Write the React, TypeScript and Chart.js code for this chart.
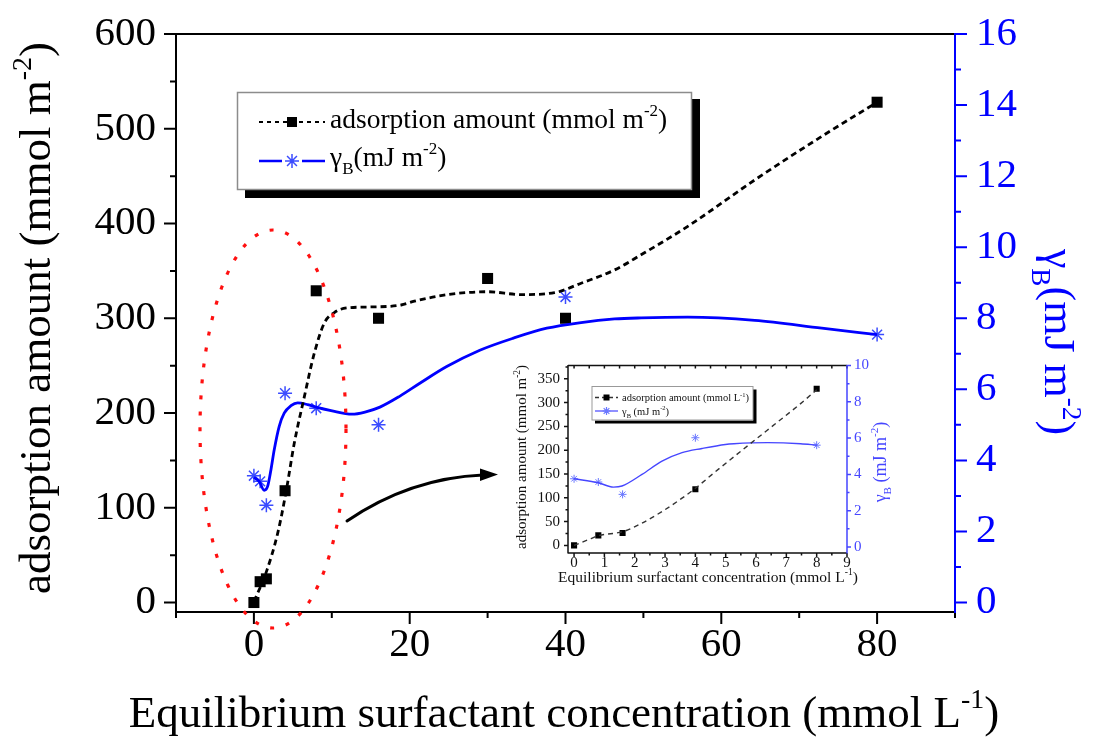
import React, { useEffect, useRef } from 'react';
import { Chart, registerables } from 'chart.js';

Chart.register(...registerables);

const FONT = '"Liberation Serif", "Times New Roman", Times, serif';
const BLUE = '#0000ff';
const STAR_BLUE = '#3b4cff';

// ---------------- main chart data ----------------
const concentration = [0, 0.8, 1.6, 4, 8, 16, 30, 40, 80];
const adsorptionAmount = [0, 22, 25, 118, 329, 300, 342, 300, 528];
const gammaConcentration = [0, 0.8, 1.6, 4, 8, 16, 40, 80];
const gammaB = [3.57, 3.41, 2.74, 5.89, 5.47, 5.0, 8.6, 7.54];

// smoothed curves
const adsorptionCurveX = [0, 1.54, 3.05, 4.11, 5.18, 6.47, 7.75, 9.04, 10.32, 12.04, 15.46, 18.9, 20.6, 24.9, 30.0, 34.3, 38.6, 42.0, 46.3, 49.7, 55.7, 64.3, 72.9, 80];
const adsorptionCurveY = [1, 31, 73, 116, 168, 217, 263, 295, 306, 311, 312, 314, 318, 325, 328, 325, 327, 337, 351, 367, 397, 446, 492, 528];
const gammaCurveX = [0, 0.68, 1.32, 1.76, 2.19, 2.61, 3.25, 3.89, 4.76, 5.62, 6.9, 8.1, 9.9, 12.6, 14.26, 16.18, 18.75, 21.3, 24.75, 29.0, 33.3, 37.6, 42.0, 46.3, 49.7, 55.7, 64.3, 72.9, 80];
const gammaCurveY = [3.52, 3.41, 3.16, 3.27, 3.74, 4.3, 4.96, 5.33, 5.54, 5.62, 5.57, 5.49, 5.4, 5.3, 5.36, 5.5, 5.81, 6.17, 6.64, 7.1, 7.44, 7.72, 7.88, 7.98, 8.01, 8.03, 7.94, 7.72, 7.54];

const xMajorTicks = [0, 20, 40, 60, 80];
const xMinorTicks = [-10, 10, 30, 50, 70, 90];
const yMajorTicks = [0, 100, 200, 300, 400, 500, 600];
const yMinorTicks = [50, 150, 250, 350, 450, 550];
const y2MajorTicks = [0, 2, 4, 6, 8, 10, 12, 14, 16];
const y2MinorTicks = [1, 3, 5, 7, 9, 11, 13, 15];

// ---------------- inset chart data ----------------
const insetConcentration = [0, 0.8, 1.6, 4, 8];
const insetAdsorption = [0, 21, 26, 118, 329];
const insetGamma = [3.76, 3.58, 2.9, 6.02, 5.61];
const insetAdsCurveX = [0, 0.47, 0.8, 1.63, 2.24, 2.9, 3.56, 4.0, 4.66, 5.27, 6.37, 7.47, 8];
const insetAdsCurveY = [0, 11.9, 20.3, 29.3, 46.9, 71.1, 99.2, 120, 154.8, 186.2, 242, 297.9, 327];
const insetGammaCurveX = [0, 0.8, 1.3, 1.58, 2.24, 2.9, 3.56, 4.22, 4.99, 5.27, 6.37, 7.47, 8];
const insetGammaCurveY = [3.76, 3.54, 3.3, 3.36, 4.0, 4.73, 5.2, 5.43, 5.65, 5.69, 5.75, 5.69, 5.61];

const insetXMajor = [0, 1, 2, 3, 4, 5, 6, 7, 8, 9];
const insetXMinor = [0.5, 1.5, 2.5, 3.5, 4.5, 5.5, 6.5, 7.5, 8.5];
const insetYMajor = [0, 50, 100, 150, 200, 250, 300, 350];
const insetYMinor = [25, 75, 125, 175, 225, 275, 325, 375];
const insetY2Major = [0, 2, 4, 6, 8, 10];
const insetY2Minor = [1, 3, 5, 7, 9];

// ---------------- text ----------------
type Part = { t: string; k?: 'sup' | 'sub' };
const xTitle: Part[] = [{ t: 'Equilibrium surfactant concentration (mmol L' }, { t: '-1', k: 'sup' }, { t: ')' }];
const yTitle: Part[] = [{ t: 'adsorption amount (mmol m' }, { t: '-2', k: 'sup' }, { t: ')' }];
const y2Title: Part[] = [{ t: 'γ' }, { t: 'B', k: 'sub' }, { t: '(mJ m' }, { t: '-2', k: 'sup' }, { t: ')' }];
const insetLegendAds: Part[] = [{ t: 'adsorption amount (mmol L' }, { t: '-1', k: 'sup' }, { t: ')' }];
const insetGammaTitle: Part[] = [{ t: 'γ' }, { t: 'B', k: 'sub' }, { t: ' (mJ m' }, { t: '-2', k: 'sup' }, { t: ')' }];

function drawRich(ctx: CanvasRenderingContext2D, parts: Part[], x: number, y: number, size: number, color: string, align: 'left' | 'center') {
  ctx.save();
  ctx.fillStyle = color;
  ctx.textBaseline = 'alphabetic';
  ctx.textAlign = 'left';
  const segs = parts.map((p) => {
    const s = p.k ? size * 0.62 : size;
    ctx.font = `${s}px ${FONT}`;
    return { p, s, w: ctx.measureText(p.t).width };
  });
  const total = segs.reduce((acc, s) => acc + s.w, 0);
  let cx = align === 'center' ? x - total / 2 : x;
  for (const sg of segs) {
    ctx.font = `${sg.s}px ${FONT}`;
    const dy = sg.p.k === 'sup' ? -size * 0.42 : sg.p.k === 'sub' ? size * 0.3 : 0;
    ctx.fillText(sg.p.t, cx, y + dy);
    cx += sg.w;
  }
  ctx.restore();
}

function drawRotated(ctx: CanvasRenderingContext2D, parts: Part[], cx: number, cy: number, angle: number, size: number, color: string) {
  ctx.save();
  ctx.translate(cx, cy);
  ctx.rotate(angle);
  drawRich(ctx, parts, 0, 0, size, color, 'center');
  ctx.restore();
}

function drawStar(ctx: CanvasRenderingContext2D, x: number, y: number, r: number) {
  ctx.beginPath();
  for (let i = 0; i < 4; i++) {
    const a = (i * Math.PI) / 4;
    ctx.moveTo(x - r * Math.cos(a), y - r * Math.sin(a));
    ctx.lineTo(x + r * Math.cos(a), y + r * Math.sin(a));
  }
  ctx.stroke();
}

function hTicks(ctx: CanvasRenderingContext2D, scale: any, vals: number[], y0: number, len: number) {
  vals.forEach((v) => {
    const p = scale.getPixelForValue(v);
    ctx.moveTo(p, y0);
    ctx.lineTo(p, y0 + len);
  });
}
function vTicks(ctx: CanvasRenderingContext2D, scale: any, vals: number[], x0: number, len: number) {
  vals.forEach((v) => {
    const p = scale.getPixelForValue(v);
    ctx.moveTo(x0, p);
    ctx.lineTo(x0 + len, p);
  });
}

const noPad = (s: any) => {
  s.paddingTop = 0;
  s.paddingBottom = 0;
  s.paddingLeft = 0;
  s.paddingRight = 0;
};

const mainDecor = {
  id: 'mainDecor',
  afterDraw(chart: any) {
    const { ctx, chartArea: a, scales } = chart;
    const sx = scales.x, sy = scales.y, sy2 = scales.y2;
    ctx.save();
    // black frame and ticks
    ctx.lineWidth = 2;
    ctx.strokeStyle = '#000';
    ctx.setLineDash([]);
    ctx.beginPath();
    hTicks(ctx, sx, xMajorTicks, a.bottom, 12);
    hTicks(ctx, sx, xMinorTicks, a.bottom, 6);
    vTicks(ctx, sy, yMajorTicks, a.left, -12);
    vTicks(ctx, sy, yMinorTicks, a.left, -6);
    ctx.moveTo(a.left, a.top);
    ctx.lineTo(a.right, a.top);
    ctx.moveTo(a.left, a.top - 1);
    ctx.lineTo(a.left, a.bottom + 1);
    ctx.moveTo(a.left - 1, a.bottom);
    ctx.lineTo(a.right, a.bottom);
    ctx.stroke();
    // blue right axis
    ctx.strokeStyle = BLUE;
    ctx.beginPath();
    ctx.moveTo(a.right, a.top - 1);
    ctx.lineTo(a.right, a.bottom + 1);
    vTicks(ctx, sy2, y2MajorTicks, a.right, 12);
    vTicks(ctx, sy2, y2MinorTicks, a.right, 6);
    ctx.stroke();

    // axis titles
    drawRich(ctx, xTitle, 564, 727, 45, '#000', 'center');
    drawRotated(ctx, yTitle, 50, 318, -Math.PI / 2, 45, '#000');
    drawRotated(ctx, y2Title, 1045, 342, Math.PI / 2, 44, BLUE);

    // legend
    ctx.fillStyle = '#000';
    ctx.fillRect(245, 99, 455, 99);
    ctx.fillStyle = '#fff';
    ctx.fillRect(237, 92, 455, 98);
    ctx.strokeStyle = '#8c8c8c';
    ctx.lineWidth = 1.5;
    ctx.strokeRect(237.5, 92.5, 454, 97);
    // row 1
    ctx.strokeStyle = '#000';
    ctx.lineWidth = 2;
    ctx.setLineDash([4, 4]);
    ctx.beginPath();
    ctx.moveTo(259, 122);
    ctx.lineTo(325, 122);
    ctx.stroke();
    ctx.setLineDash([]);
    ctx.fillStyle = '#000';
    ctx.fillRect(287, 117, 10, 10);
    drawRich(ctx, yTitle, 330, 128, 27.5, '#000', 'left');
    // row 2
    ctx.strokeStyle = BLUE;
    ctx.lineWidth = 2.5;
    ctx.beginPath();
    ctx.moveTo(259, 161);
    ctx.lineTo(282, 161);
    ctx.moveTo(302, 161);
    ctx.lineTo(325, 161);
    ctx.stroke();
    ctx.strokeStyle = STAR_BLUE;
    ctx.lineWidth = 1.5;
    drawStar(ctx, 292, 161, 7);
    drawRich(ctx, y2Title, 330, 166, 27.5, '#000', 'left');

    // red dotted ellipse
    ctx.strokeStyle = '#ff1010';
    ctx.lineWidth = 3.2;
    ctx.lineCap = 'butt';
    ctx.setLineDash([4, 12]);
    ctx.beginPath();
    ctx.ellipse(273, 429, 73, 199, 0, 0, Math.PI * 2);
    ctx.stroke();
    ctx.setLineDash([]);

    // black arrow
    ctx.strokeStyle = '#000';
    ctx.lineWidth = 3;
    ctx.lineCap = 'round';
    ctx.beginPath();
    ctx.moveTo(347, 521);
    ctx.quadraticCurveTo(410, 478, 483, 475);
    ctx.stroke();
    ctx.fillStyle = '#000';
    ctx.beginPath();
    ctx.moveTo(498, 474.5);
    ctx.lineTo(480, 468.5);
    ctx.lineTo(480, 481);
    ctx.closePath();
    ctx.fill();
    ctx.restore();
  },
};

const INSET_BLUE = '#4646ff';

const insetDecor = {
  id: 'insetDecor',
  afterDraw(chart: any) {
    const { ctx, chartArea: a, scales } = chart;
    const sx = scales.x, sy = scales.y, sy2 = scales.y2;
    ctx.save();
    ctx.lineWidth = 1.5;
    ctx.strokeStyle = '#111';
    ctx.beginPath();
    hTicks(ctx, sx, insetXMajor, a.bottom, 4);
    hTicks(ctx, sx, insetXMinor, a.bottom, 2.5);
    hTicks(ctx, sx, insetXMajor.concat(insetXMinor), a.top, 3);
    vTicks(ctx, sy, insetYMajor, a.left, -4);
    vTicks(ctx, sy, insetYMinor, a.left, -2.5);
    ctx.moveTo(a.left, a.top);
    ctx.lineTo(a.right, a.top);
    ctx.moveTo(a.left, a.top - 0.5);
    ctx.lineTo(a.left, a.bottom + 0.5);
    ctx.moveTo(a.left, a.bottom);
    ctx.lineTo(a.right, a.bottom);
    ctx.stroke();
    ctx.strokeStyle = INSET_BLUE;
    ctx.beginPath();
    ctx.moveTo(a.right, a.top - 0.5);
    ctx.lineTo(a.right, a.bottom + 0.5);
    vTicks(ctx, sy2, insetY2Major, a.right, 4);
    vTicks(ctx, sy2, insetY2Minor, a.right, 2.5);
    ctx.stroke();

    // titles
    drawRich(ctx, xTitle, 208, 232, 15.5, '#111', 'center');
    drawRotated(ctx, yTitle, 26, 107, -Math.PI / 2, 15, '#111');
    drawRotated(ctx, insetGammaTitle, 386, 112, -Math.PI / 2, 18, INSET_BLUE);

    // legend
    ctx.fillStyle = '#000';
    ctx.fillRect(95, 39.5, 161.5, 34);
    ctx.fillStyle = '#fff';
    ctx.fillRect(91.5, 36, 161.5, 34.5);
    ctx.strokeStyle = '#999';
    ctx.lineWidth = 1;
    ctx.strokeRect(92, 36.5, 161, 33.5);
    ctx.strokeStyle = '#333';
    ctx.lineWidth = 1.3;
    ctx.setLineDash([4, 3]);
    ctx.beginPath();
    ctx.moveTo(95, 47.5);
    ctx.lineTo(118, 47.5);
    ctx.stroke();
    ctx.setLineDash([]);
    ctx.fillStyle = '#000';
    ctx.fillRect(103.5, 44.5, 6, 6);
    drawRich(ctx, insetLegendAds, 122, 51, 10.5, '#111', 'left');
    ctx.strokeStyle = INSET_BLUE;
    ctx.lineWidth = 1.2;
    ctx.beginPath();
    ctx.moveTo(95, 61);
    ctx.lineTo(118, 61);
    ctx.stroke();
    ctx.strokeStyle = '#6a78ff';
    drawStar(ctx, 106.5, 61, 4);
    drawRich(ctx, insetGammaTitle, 122, 64.5, 10.5, '#111', 'left');
    ctx.restore();
  },
};

const pts = (xs: number[], ys: number[]) => xs.map((x, i) => ({ x, y: ys[i] }));

export default function App() {
  const mainRef = useRef<HTMLCanvasElement>(null);
  const insetRef = useRef<HTMLCanvasElement>(null);

  useEffect(() => {
    const tickFont = { family: FONT, size: 41 };
    const main = new Chart(mainRef.current as HTMLCanvasElement, {
      type: 'scatter',
      data: {
        datasets: [
          {
            data: pts(adsorptionCurveX, adsorptionCurveY),
            showLine: true,
            borderColor: '#000',
            borderWidth: 2.8,
            borderDash: [6, 4],
            pointRadius: 0,
            cubicInterpolationMode: 'monotone',
            yAxisID: 'y',
          },
          {
            data: pts(gammaCurveX, gammaCurveY),
            showLine: true,
            borderColor: BLUE,
            borderWidth: 2.8,
            pointRadius: 0,
            cubicInterpolationMode: 'monotone',
            yAxisID: 'y2',
          },
          {
            data: pts(concentration, adsorptionAmount),
            showLine: false,
            pointStyle: 'rect',
            pointRadius: 7.8,
            backgroundColor: '#000',
            borderColor: '#000',
            borderWidth: 0,
            yAxisID: 'y',
          },
          {
            data: pts(gammaConcentration, gammaB),
            showLine: false,
            pointStyle: 'star',
            pointRadius: 7,
            borderColor: STAR_BLUE,
            backgroundColor: STAR_BLUE,
            borderWidth: 1.5,
            yAxisID: 'y2',
          },
        ],
      } as any,
      options: {
        animation: false,
        responsive: false,
        events: [],
        layout: { padding: { top: 34, left: 0, right: 0, bottom: 0 } },
        plugins: { legend: { display: false }, tooltip: { enabled: false } },
        scales: {
          x: {
            type: 'linear',
            min: -10,
            max: 90,
            grid: { display: false, drawTicks: false },
            border: { display: false },
            afterBuildTicks: (s: any) => { s.ticks = xMajorTicks.map((v) => ({ value: v })); },
            afterFit: (s: any) => { s.height = 126; noPad(s); },
            ticks: { font: tickFont, color: '#000', padding: 9, autoSkip: false, maxRotation: 0, callback: (v: any) => String(v) },
          },
          y: {
            type: 'linear',
            position: 'left',
            min: -10,
            max: 600,
            grid: { display: false, drawTicks: false },
            border: { display: false },
            afterBuildTicks: (s: any) => { s.ticks = yMajorTicks.map((v) => ({ value: v })); },
            afterFit: (s: any) => { s.width = 176; noPad(s); },
            ticks: { font: tickFont, color: '#000', padding: 20, autoSkip: false, callback: (v: any) => String(v) },
          },
          y2: {
            type: 'linear',
            position: 'right',
            min: -16 / 60,
            max: 16,
            grid: { display: false, drawTicks: false },
            border: { display: false },
            afterBuildTicks: (s: any) => { s.ticks = y2MajorTicks.map((v) => ({ value: v })); },
            afterFit: (s: any) => { s.width = 139; noPad(s); },
            ticks: { font: tickFont, color: BLUE, padding: 21, autoSkip: false, callback: (v: any) => String(v) },
          },
        },
      } as any,
      plugins: [mainDecor],
    });

    const insetFont = { family: FONT, size: 15 };
    const inset = new Chart(insetRef.current as HTMLCanvasElement, {
      type: 'scatter',
      data: {
        datasets: [
          {
            data: pts(insetAdsCurveX, insetAdsCurveY),
            showLine: true,
            borderColor: '#333',
            borderWidth: 1.4,
            borderDash: [5, 4],
            pointRadius: 0,
            cubicInterpolationMode: 'monotone',
            yAxisID: 'y',
          },
          {
            data: pts(insetGammaCurveX, insetGammaCurveY),
            showLine: true,
            borderColor: INSET_BLUE,
            borderWidth: 1.4,
            pointRadius: 0,
            cubicInterpolationMode: 'monotone',
            yAxisID: 'y2',
          },
          {
            data: pts(insetConcentration, insetAdsorption),
            showLine: false,
            pointStyle: 'rect',
            pointRadius: 4.3,
            backgroundColor: '#000',
            borderColor: '#000',
            borderWidth: 0,
            yAxisID: 'y',
          },
          {
            data: pts(insetConcentration, insetGamma),
            showLine: false,
            pointStyle: 'star',
            pointRadius: 4,
            borderColor: '#6a78ff',
            borderWidth: 1,
            yAxisID: 'y2',
          },
        ],
      } as any,
      options: {
        animation: false,
        responsive: false,
        events: [],
        layout: { padding: { top: 15.5, left: 0, right: 0, bottom: 0 } },
        plugins: { legend: { display: false }, tooltip: { enabled: false } },
        scales: {
          x: {
            type: 'linear',
            min: -0.2,
            max: 9,
            grid: { display: false, drawTicks: false },
            border: { display: false },
            afterBuildTicks: (s: any) => { s.ticks = insetXMajor.map((v) => ({ value: v })); },
            afterFit: (s: any) => { s.height = 42; noPad(s); },
            ticks: { font: insetFont, color: '#111', padding: 1, autoSkip: false, maxRotation: 0, callback: (v: any) => String(v) },
          },
          y: {
            type: 'linear',
            position: 'left',
            min: -16,
            max: 378,
            grid: { display: false, drawTicks: false },
            border: { display: false },
            afterBuildTicks: (s: any) => { s.ticks = insetYMajor.map((v) => ({ value: v })); },
            afterFit: (s: any) => { s.width = 68; noPad(s); },
            ticks: { font: insetFont, color: '#111', padding: 8, autoSkip: false, callback: (v: any) => String(v) },
          },
          y2: {
            type: 'linear',
            position: 'right',
            min: -0.33,
            max: 10,
            grid: { display: false, drawTicks: false },
            border: { display: false },
            afterBuildTicks: (s: any) => { s.ticks = insetY2Major.map((v) => ({ value: v })); },
            afterFit: (s: any) => { s.width = 48; noPad(s); },
            ticks: { font: insetFont, color: INSET_BLUE, padding: 7, autoSkip: false, callback: (v: any) => String(v) },
          },
        },
      } as any,
      plugins: [insetDecor],
    });

    return () => {
      main.destroy();
      inset.destroy();
    };
  }, []);

  return (
    <div style={{ position: 'fixed', left: 0, top: 0, width: 1094, height: 738, background: '#fff', overflow: 'hidden' }}>
      <canvas ref={mainRef} width={1094} height={738} style={{ position: 'absolute', left: 0, top: 0, width: 1094, height: 738 }} />
      <canvas ref={insetRef} width={395} height={245} style={{ position: 'absolute', left: 500, top: 350, width: 395, height: 245 }} />
    </div>
  );
}
